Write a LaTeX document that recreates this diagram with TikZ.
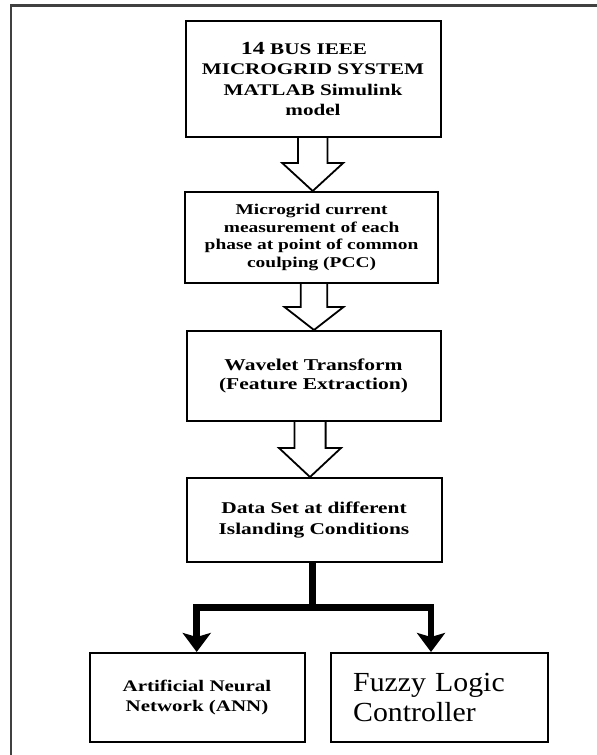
\documentclass[tikz,border=0pt]{standalone}
\usepackage{fontspec}
\setmainfont{Liberation Serif}
% wide bold face for the process boxes, slightly widened regular face for the controller box
\newfontfamily\widebold[FakeStretch=1.3]{Liberation Serif}
\newfontfamily\widereg[FakeStretch=1.08]{Liberation Serif}
\usetikzlibrary{arrows.meta}

\begin{document}
\begin{tikzpicture}[x=1bp,y=-1bp,
  box/.style={draw=black,line width=2bp,fill=white,inner sep=0pt,align=center},
  hollow/.style={draw=black,line width=1.8bp,fill=white,line join=miter},
  fat/.style={draw=black,line width=6.5bp,line join=miter},
  fattip/.style={fat,-{Stealth[length=19bp,width=28bp,inset=4bp]}},
  frameline/.style={draw=black!75,line width=2.4bp}]
\useasboundingbox (0,0) rectangle (597,755);
\fill[white] (0,0) rectangle (597,755);

% outer frame (left and top edges)
\draw[frameline] (11,755) -- (11,5.5) -- (597,5.5);

% process boxes
\node[box,minimum width=255bp,minimum height=116bp,
      font={\widebold\bfseries\fontsize{16.3}{20.4}\selectfont}] (sim) at (313,79)
  {{\fontsize{18.5}{20.4}\selectfont 14} BUS IEEE\hspace*{18bp}\\ MICROGRID SYSTEM\\ MATLAB Simulink\\ model};

\node[box,minimum width=252.4bp,minimum height=91bp,
      font={\widebold\bfseries\fontsize{15}{17.6}\selectfont}] (mea) at (311.6,237.5)
  {Microgrid current\\ measurement of each\\ phase at point of common\\ coulping (PCC)};

\node[box,minimum width=254bp,minimum height=90bp,
      font={\widebold\bfseries\fontsize{16.6}{19.2}\selectfont}] (wav) at (313.5,376)
  {Wavelet Transform\\ (Feature Extraction)};

\node[box,minimum width=255bp,minimum height=84bp,
      font={\widebold\bfseries\fontsize{16.5}{21.7}\selectfont}] (data) at (314,520)
  {Data Set at different\\ Islanding Conditions};

\node[box,minimum width=215bp,minimum height=89bp,
      font={\widebold\bfseries\fontsize{16.2}{20}\selectfont}] (ann) at (197,697.5)
  {Artificial Neural\\ Network (ANN)};

\node[box,minimum width=217bp,minimum height=89bp,align=left,text width=173bp,
      font={\widereg\fontsize{27.7}{31}\selectfont}] (fuzzy) at (439.7,697.5)
  {Fuzzy Logic\\ Controller};

% hollow block arrows between the stages
\draw[hollow] (sim.south -| 298,0) -- (298,163) -- (282.2,163) -- (mea.north -| 312.7,0)
  -- (343.2,163) -- (327.4,163) -- (sim.south -| 327.4,0);
\draw[hollow] (mea.south -| 300.7,0) -- (300.7,307) -- (284.5,307) -- (wav.north -| 314,0)
  -- (343.5,307) -- (327.3,307) -- (mea.south -| 327.3,0);
\draw[hollow] (wav.south -| 294.4,0) -- (294.4,448) -- (279,448) -- (data.north -| 310,0)
  -- (341,448) -- (325.6,448) -- (wav.south -| 325.6,0);

% branching connector to the two classifiers
\coordinate (split) at (312.5,607.5);
\draw[fat] (data.south -| 312.5,0) -- (split);
\draw[fattip] (split) -| (ann.north -| 196.7,0);
\draw[fattip] (split) -| (fuzzy.north -| 431,0);
\end{tikzpicture}
\end{document}
